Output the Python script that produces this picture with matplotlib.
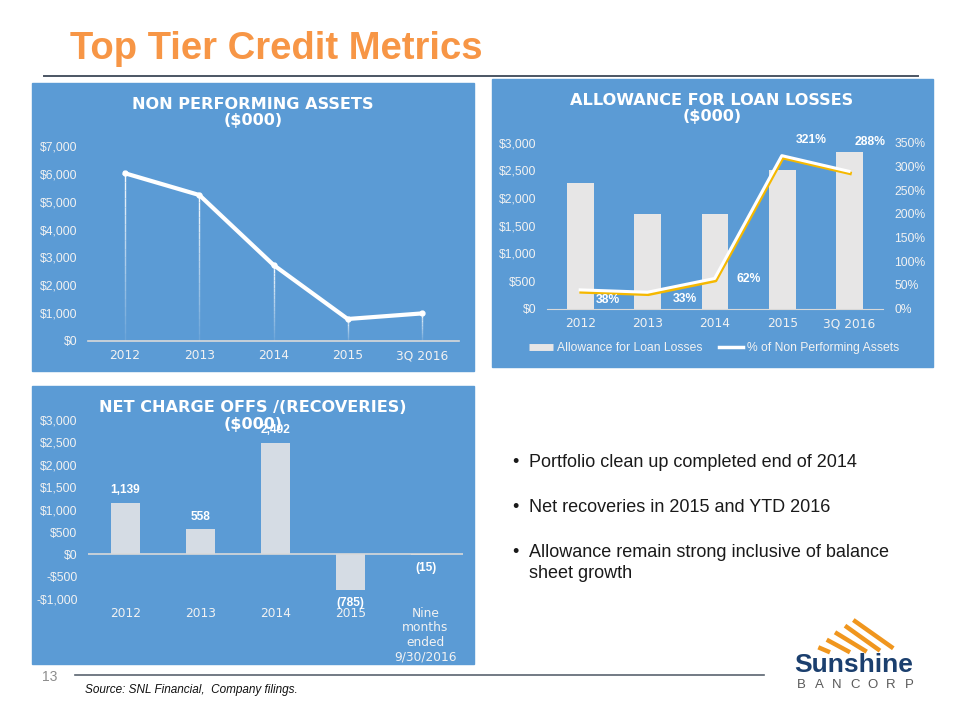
import numpy as np
import matplotlib.pyplot as plt
import matplotlib.transforms as mtransforms
from matplotlib.lines import Line2D
from matplotlib.patches import Rectangle
from matplotlib.collections import LineCollection
from matplotlib.ticker import FuncFormatter

plt.rcParams['font.family'] = ['Liberation Sans', 'DejaVu Sans']

# 数据
npa_years = ['2012', '2013', '2014', '2015', '3Q 2016']
npa_values = [6020, 5240, 2730, 790, 990]

all_years = ['2012', '2013', '2014', '2015', '3Q 2016']
all_values = [2265, 1711, 1717, 2506, 2837]
all_pct = [38, 33, 62, 321, 288]

nco_labels = ['2012', '2013', '2014', '2015', 'Nine\nmonths\nended\n9/30/2016']
nco_values = [1139, 558, 2492, -785, -15]

bullets = ['Portfolio clean up completed end of 2014',
           'Net recoveries in 2015 and YTD 2016',
           'Allowance remain strong inclusive of balance\nsheet growth']

W, H = 960, 720
PANEL = '#5B9BD5'
TICK = '#F2F2F2'
AXLINE = '#D9D9D9'
XFONT = dict(fontfamily='DejaVu Sans', fontsize=8.8, color=TICK)
TFONT = dict(fontfamily='DejaVu Sans', fontsize=11.6, weight='bold', color='white')


def box(x0, y0, x1, y1):
    # 像素坐标 -> figure 坐标
    return [x0 / W, 1 - y1 / H, (x1 - x0) / W, (y1 - y0) / H]


def fx(x):
    return x / W


def fy(y):
    return 1 - y / H


def money(v, _):
    return f'${v:,.0f}' if v >= 0 else f'-${-v:,.0f}'


def style_axes(ax):
    ax.patch.set_visible(False)
    for s in ax.spines.values():
        s.set_visible(False)
    ax.tick_params(length=0, colors=TICK, labelsize=8.7)


fig = plt.figure(figsize=(9.6, 7.2), dpi=100)

# 面板背景
for x0, y0, x1, y1 in [(32, 83, 474, 371), (492, 79, 933, 367), (32, 386, 474, 664)]:
    fig.add_artist(Rectangle((fx(x0), fy(y1)), (x1 - x0) / W, (y1 - y0) / H,
                             transform=fig.transFigure, color=PANEL, zorder=0))

# 标题和分隔线
fig.text(fx(70), fy(59.3), 'Top Tier Credit Metrics', fontsize=27.5, weight='bold',
         color='#F79646', va='baseline')
fig.add_artist(Line2D([fx(44), fx(918)], [fy(75.5), fy(75.5)], color='#4B5563', lw=1.4,
                      transform=fig.transFigure))
fig.add_artist(Line2D([fx(75), fx(764)], [fy(675), fy(675)], color='#5A6470', lw=1.2,
                      transform=fig.transFigure))
fig.text(fx(42), fy(677), '13', fontsize=10, color='#8C8C8C', va='center')
fig.text(fx(85), fy(689.5), 'Source: SNL Financial,  Company filings.', fontsize=8.5,
         style='italic', color='#111111', va='center')

x = np.arange(5)

# ---- 不良资产 ----
ax1 = fig.add_axes(box(88, 146, 459, 341))
style_axes(ax1)
ax1.spines['bottom'].set_visible(True)
ax1.spines['bottom'].set_color(AXLINE)
ax1.spines['bottom'].set_linewidth(1.2)
segs, cols = [], []
for xi, v in zip(x, npa_values):
    ys = np.linspace(0, v, 21)
    for i in range(20):
        segs.append([(xi, ys[i]), (xi, ys[i + 1])])
        cols.append((1, 1, 1, 0.1 + 0.85 * i / 19))
ax1.add_collection(LineCollection(segs, colors=cols, linewidths=1.0, zorder=2))
ax1.plot(x, npa_values, color='white', lw=3, marker='o', ms=3.5,
         solid_joinstyle='round', zorder=3)
ax1.set_xlim(-0.5, 4.5)
ax1.set_ylim(0, 7000)
ax1.set_yticks(range(0, 7001, 1000))
ax1.yaxis.set_major_formatter(FuncFormatter(money))
ax1.set_xticks(x, npa_years, **XFONT)
ax1.tick_params(axis='y', pad=7.5)
ax1.tick_params(axis='x', pad=6)
fig.text(fx(253), fy(112.5), 'NON PERFORMING ASSETS\n($000)', ha='center', va='center',
         linespacing=1.15, **TFONT)

# ---- 贷款损失准备 ----
ax2 = fig.add_axes(box(547, 142.7, 883, 308.7))
style_axes(ax2)
ax2.spines['bottom'].set_visible(True)
ax2.spines['bottom'].set_color(AXLINE)
ax2.bar(x, all_values, width=0.4, color='#E7E6E6', zorder=2)
ax2.set_xlim(-0.5, 4.5)
ax2.set_ylim(0, 3000)
ax2.set_yticks(range(0, 3001, 500))
ax2.yaxis.set_major_formatter(FuncFormatter(money))
ax2.set_xticks(x, all_years, **XFONT)
ax2.tick_params(axis='y', pad=7.5)
ax2.tick_params(axis='x', pad=6)

ax2r = ax2.twinx()
style_axes(ax2r)
ax2r.set_ylim(0, 350)
ax2r.set_yticks(range(0, 351, 50))
ax2r.yaxis.set_major_formatter(FuncFormatter(lambda v, _: f'{v:.0f}%'))
ax2r.tick_params(axis='y', pad=8)
down = ax2r.transData + mtransforms.ScaledTranslation(0.6 / 100, -1.2 / 100, fig.dpi_scale_trans)
up = ax2r.transData + mtransforms.ScaledTranslation(-0.4 / 100, 0.8 / 100, fig.dpi_scale_trans)
ax2r.plot(x, all_pct, color='#F5B800', lw=2.6, transform=down, zorder=3,
          solid_joinstyle='round')
ax2r.plot(x, all_pct, color='white', lw=2.2, transform=up, zorder=4,
          solid_joinstyle='round')
pct_offsets = [(20, -6.5), (26.5, -4.3), (24.5, 0), (21, 11.5), (15, 21.6)]
for xi, p, off in zip(x, all_pct, pct_offsets):
    ax2r.annotate(f'{p}%', (xi, p), xytext=off, textcoords='offset points',
                  ha='center', va='center', fontsize=8.7, weight='bold', color='white')
fig.text(fx(712), fy(108.5), 'ALLOWANCE FOR LOAN LOSSES\n($000)', ha='center', va='center',
         linespacing=1.15, **TFONT)
handles = [Line2D([], [], color='#E7E6E6', lw=5, solid_capstyle='butt'),
           Line2D([], [], color='white', lw=2.5)]
fig.legend(handles, ['Allowance for Loan Losses', '% of Non Performing Assets'],
           loc='center', bbox_to_anchor=(fx(714), fy(348.5)), ncol=2, frameon=False,
           prop={'family': 'Liberation Sans', 'size': 8.7}, labelcolor=TICK,
           handlelength=2.0, handletextpad=0.3, columnspacing=1.4)

# ---- 净核销 ----
ax3 = fig.add_axes(box(88, 420, 463, 599.3))
style_axes(ax3)
ax3.bar(x, nco_values, width=0.39, color='#D5DCE4', zorder=2)
ax3.axhline(0, color=AXLINE, lw=1.2, zorder=3)
ax3.set_xlim(-0.5, 4.5)
ax3.set_ylim(-1000, 3000)
ax3.set_yticks(range(-1000, 3001, 500))
ax3.yaxis.set_major_formatter(FuncFormatter(money))
ax3.set_xticks(x, nco_labels, linespacing=1.15, **XFONT)
ax3.tick_params(axis='y', pad=7.5)
ax3.tick_params(axis='x', pad=5.5)
for xi, v in zip(x, nco_values):
    txt = f'{v:,}' if v >= 0 else f'({-v:,})'
    ax3.annotate(txt, (xi, v), xytext=(0, 5 if v >= 0 else -5), textcoords='offset points',
                 ha='center', va='bottom' if v >= 0 else 'top', fontsize=8.6,
                 weight='bold', color='white', zorder=5)
fig.text(fx(253), fy(416), 'NET CHARGE OFFS /(RECOVERIES)\n($000)', ha='center',
         va='center', linespacing=1.15, **TFONT)

# ---- 要点 ----
bullet_y = [466.7, 511.7, 556.7]
for b, yb in zip(bullets, bullet_y):
    lines = b.split('\n')
    fig.text(fx(512), fy(yb), '•', fontsize=13, color='#1A1A1A', va='baseline')
    for k, ln in enumerate(lines):
        fig.text(fx(529), fy(yb + 21.6 * k), ln, fontsize=13, color='#1A1A1A',
                 va='baseline')

# ---- 标志 ----
stripes = [((853.3, 620), (893.3, 648.3)), ((845, 625.7), (880, 650.7)),
           ((835, 632.3), (866.7, 651.7)), ((826.7, 639.7), (850, 652.3)),
           ((818.3, 647.3), (830, 652.3))]
for (a, b) in stripes:
    fig.add_artist(Line2D([fx(a[0]), fx(b[0])], [fy(a[1]), fy(b[1])], color='#F0961E',
                          lw=3.2, solid_capstyle='butt', transform=fig.transFigure))
fig.text(fx(854), fy(672), 'Sunshine', fontsize=19, weight='bold', color='#1B3F6E',
         ha='center', va='baseline')
for ch, xc in zip('BANCORP', np.linspace(801, 909, 7)):
    fig.text(fx(xc), fy(688.5), ch, fontsize=9.5, color='#5A5A5A', ha='center',
             va='baseline')

plt.savefig('out.png', dpi=100)
